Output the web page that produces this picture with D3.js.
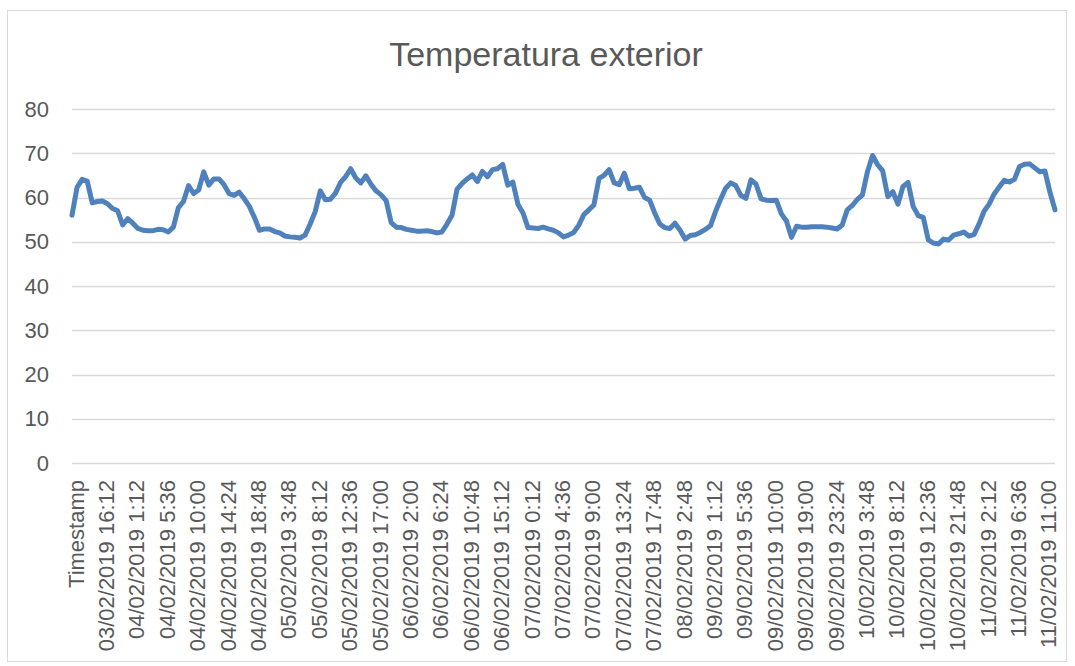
<!DOCTYPE html>
<html>
<head>
<meta charset="utf-8">
<script src="https://cdn.jsdelivr.net/npm/d3@7"></script>
<style>
  body { margin: 0; background: #fff; }
  svg { display: block; font-family: "Liberation Sans", Arial, sans-serif; }
</style>
</head>
<body>
<svg width="1075" height="666"></svg>
<script>
const chartTitle = "Temperatura exterior";
const yTicks = [0, 10, 20, 30, 40, 50, 60, 70, 80];

// category labels, one shown every labelStep readings
const labelStep = 6;
const xLabels = [
  "Timestamp", "03/02/2019 16:12", "04/02/2019 1:12", "04/02/2019 5:36",
  "04/02/2019 10:00", "04/02/2019 14:24", "04/02/2019 18:48", "05/02/2019 3:48",
  "05/02/2019 8:12", "05/02/2019 12:36", "05/02/2019 17:00", "06/02/2019 2:00",
  "06/02/2019 6:24", "06/02/2019 10:48", "06/02/2019 15:12", "07/02/2019 0:12",
  "07/02/2019 4:36", "07/02/2019 9:00", "07/02/2019 13:24", "07/02/2019 17:48",
  "08/02/2019 2:48", "09/02/2019 1:12", "09/02/2019 5:36", "09/02/2019 10:00",
  "09/02/2019 19:00", "09/02/2019 23:24", "10/02/2019 3:48", "10/02/2019 8:12",
  "10/02/2019 12:36", "10/02/2019 21:48", "11/02/2019 2:12", "11/02/2019 6:36",
  "11/02/2019 11:00"
];

// temperature readings
const temps = [
  56, 62.3, 64.1, 63.7, 58.8, 59.1, 59.2, 58.6, 57.5, 57,
  53.8, 55.2, 54.2, 53, 52.6, 52.5, 52.5, 52.8, 52.7, 52.2,
  53.3, 57.7, 59.1, 62.7, 60.9, 61.7, 65.8, 62.8, 64.2, 64.2,
  62.9, 60.9, 60.5, 61.2, 59.7, 58, 55.5, 52.6,
  52.9, 52.9, 52.3, 52, 51.3, 51.1, 51, 50.85, 51.5, 54,
  56.8, 61.5, 59.5, 59.6, 61, 63.4, 64.7, 66.5, 64.4, 63.3,
  64.9, 63, 61.5, 60.6, 59.3, 54.3, 53.3, 53.2, 52.8, 52.6,
  52.4, 52.4, 52.5, 52.3, 52, 52.2, 54, 56, 61.9,
  63.2, 64.2, 65.1, 63.6, 65.9, 64.7, 66.3, 66.5, 67.5, 62.8,
  63.5, 58.5, 56.5, 53.2, 53.1, 53, 53.3, 52.9, 52.6, 52,
  51.1, 51.5, 52.1, 53.7, 56.1, 57.2, 58.3, 64.3, 65, 66.3,
  63.3, 62.9, 65.5, 62, 62.1, 62.3, 60, 59.4, 56.5,
  54, 53.2, 53, 54.2, 52.6, 50.6, 51.4, 51.6, 52.1, 52.8,
  53.6, 56.8, 59.6, 62.1, 63.3, 62.7, 60.5, 59.8, 64, 63,
  59.7, 59.4, 59.3, 59.4, 56.3, 54.7, 51, 53.5, 53.3, 53.3,
  53.4, 53.4, 53.4, 53.3, 53.1, 52.9, 53.8, 57.2, 58.2, 59.6,
  60.6, 65.9, 69.5, 67.4, 66, 60.2, 61.3, 58.5, 62.5, 63.4,
  58, 55.9, 55.5, 50.4, 49.7, 49.5, 50.6, 50.4, 51.5, 51.8,
  52.2, 51.3, 51.6, 54, 56.9, 58.5, 60.8, 62.4, 63.9, 63.5,
  64.1, 67, 67.5, 67.6, 66.7, 65.8, 66, 61.2, 57.2
];

const svg = d3.select('svg');
const textColor = '#595959';
const gridColor = '#d9d9d9';

// chart border
svg.append('rect')
  .attr('x', 7.5).attr('y', 10.5)
  .attr('width', 1059).attr('height', 651)
  .attr('fill', '#fff')
  .attr('stroke', gridColor);

const x = d3.scaleLinear().domain([0, temps.length - 1]).range([72, 1055]);
const y = d3.scaleLinear().domain([0, 80]).range([463, 109]);

// title
svg.append('text')
  .attr('x', 546).attr('y', 66)
  .attr('text-anchor', 'middle')
  .attr('font-size', 34)
  .attr('fill', textColor)
  .text(chartTitle);

// horizontal gridlines
svg.append('g')
  .selectAll('line')
  .data(yTicks)
  .join('line')
  .attr('x1', 72).attr('x2', 1055)
  .attr('y1', d => Math.round(y(d)) + 0.5)
  .attr('y2', d => Math.round(y(d)) + 0.5)
  .attr('stroke', gridColor)
  .attr('stroke-width', 1.3);

// y axis labels
const yAxis = svg.append('g')
  .attr('transform', 'translate(72,0)')
  .call(d3.axisLeft(y).tickValues(yTicks).tickSize(0).tickPadding(23));
yAxis.select('.domain').remove();
yAxis.selectAll('text')
  .attr('font-size', 22)
  .attr('font-family', '"Liberation Sans", Arial, sans-serif')
  .attr('fill', textColor);

// x axis labels, rotated
const xAxis = svg.append('g')
  .attr('transform', 'translate(0,463)')
  .call(d3.axisBottom(x)
    .tickValues(xLabels.map((d, i) => i * labelStep))
    .tickFormat((d, i) => xLabels[i])
    .tickSize(0));
xAxis.select('.domain').remove();
xAxis.selectAll('text')
  .attr('transform', 'rotate(-90)')
  .attr('text-anchor', 'end')
  .attr('x', -17)
  .attr('y', 11)
  .attr('dy', null)
  .attr('font-size', 22)
  .attr('font-family', '"Liberation Sans", Arial, sans-serif')
  .attr('fill', textColor);

// the temperature line
const line = d3.line()
  .x((d, i) => x(i))
  .y(d => y(d));

svg.append('path')
  .datum(temps)
  .attr('d', line)
  .attr('fill', 'none')
  .attr('stroke', '#4f81bd')
  .attr('stroke-width', 5)
  .attr('stroke-linejoin', 'round')
  .attr('stroke-linecap', 'round');
</script>
</body>
</html>
